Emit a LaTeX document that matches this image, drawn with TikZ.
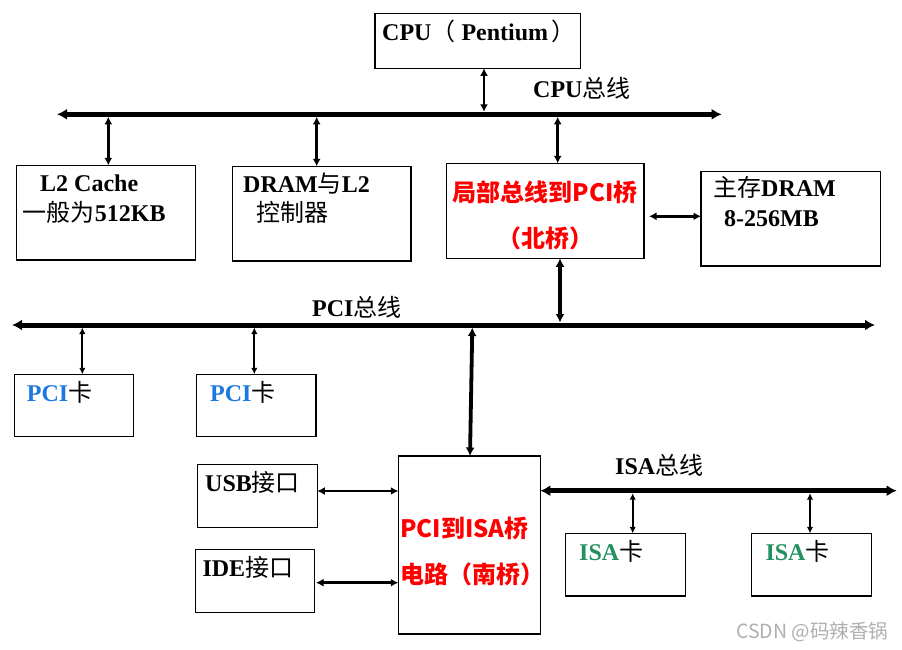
\documentclass[tikz,border=0pt]{standalone}
\usepackage{fontspec}
\usetikzlibrary{arrows.meta}
\setmainfont{Liberation Serif}
\newfontfamily\cjk{Noto Sans CJK SC}
\newcommand\zh[1]{{\cjk\mdseries #1}}
\definecolor{pciblue}{RGB}{30,120,225}
\definecolor{isagreen}{RGB}{35,145,95}
\definecolor{bridgered}{RGB}{255,0,0}
\definecolor{markgray}{RGB}{175,175,175}
\tikzset{
  box/.style={draw, line width=1.3pt, rectangle, anchor=north west, inner sep=0pt, outer sep=0pt},
  txt/.style={anchor=base west, inner sep=0pt, font=\fontsize{24}{28}\selectfont\bfseries},
  redtxt/.style={inner sep=0pt, text=bridgered, font=\fontsize{24}{28}\selectfont\cjk\bfseries},
  bus/.style={line width=5pt, {Latex[length=10pt,width=11pt]}-{Latex[length=10pt,width=11pt]}},
  link/.style={line width=2.8pt, {Latex[length=7.5pt,width=8pt]}-{Latex[length=7.5pt,width=8pt]}},
  heavy/.style={line width=3.8pt, {Latex[length=8.5pt,width=9pt]}-{Latex[length=8.5pt,width=9pt]}},
  thin/.style={line width=1.8pt, {Latex[length=6.5pt,width=6.5pt]}-{Latex[length=6.5pt,width=6.5pt]}},
}
\begin{document}
\begin{tikzpicture}[x=1pt,y=-1pt]
\useasboundingbox[fill=white] (0,0) rectangle (902,649);

% ---------- boxes ----------
\node[box, minimum width=205.7pt, minimum height=55pt]   (cpu)  at (375,13.3) {};
\node[box, minimum width=179pt,   minimum height=94.7pt] (l2)   at (16.3,165.3) {};
\node[box, minimum width=178.7pt, minimum height=94.7pt] (dctl) at (232.3,166.3) {};
\node[box, minimum width=197.3pt, minimum height=95pt]   (nb)   at (446.7,163.3) {};
\node[box, minimum width=179.7pt, minimum height=94.3pt] (mem)  at (701,171.7) {};
\node[box, minimum width=119pt,   minimum height=62.4pt] (pci1) at (14.3,374.3) {};
\node[box, minimum width=119.7pt, minimum height=62.4pt] (pci2) at (196.3,374.3) {};
\node[box, minimum width=120pt,   minimum height=63pt]   (usb)  at (197.3,464.3) {};
\node[box, minimum width=119pt,   minimum height=63pt]   (ide)  at (195.3,549.3) {};
\node[box, minimum width=142pt,   minimum height=178pt]  (sb)   at (398.3,456) {};
\node[box, minimum width=120pt,   minimum height=62.7pt] (isa1) at (565.3,533.3) {};
\node[box, minimum width=120pt,   minimum height=62.7pt] (isa2) at (751.3,533.3) {};

% ---------- texts ----------
\node[txt] (tcpu)  at (382,40)    {CPU\zh{（}\kern6pt Pentium\kern3pt\zh{）}};
\node[txt] (tcpub) at (533,97)    {CPU\zh{总线}};
\node[txt] (tl2a)  at (40,191)    {L2 Cache};
\node[txt] (tl2b)  at (22.7,221)  {\zh{一般为}512KB};
\node[txt] (tdca)  at (243,192.7) {DRAM\zh{与}L2};
\node[txt] (tdcb)  at (256.7,221) {\zh{控制器}};
\node[redtxt, anchor=base] (tnba) at (545,201) {局部总线到PCI桥};
\node[redtxt, anchor=base] (tnbb) at (545,247) {（北桥）};
\node[txt] (tmema) at (713,196.7) {\zh{主存}DRAM};
\node[txt] (tmemb) at (724,226)   {8-256MB};
\node[txt] (tpcib) at (312,316.7) {PCI\zh{总线}};
\node[txt] (tpc1)  at (26.7,401)  {\textcolor{pciblue}{PCI}\zh{卡}};
\node[txt] (tpc2)  at (210,401)   {\textcolor{pciblue}{PCI}\zh{卡}};
\node[txt] (tusb)  at (205,491.7) {USB\zh{接口}};
\node[txt] (tide)  at (202.3,576.7) {IDE\zh{接口}};
\node[redtxt, anchor=base west] (tsba) at (400,537) {PCI到ISA桥};
\node[redtxt, anchor=base west] (tsbb) at (400,583) {电路（南桥）};
\node[txt] (tisab) at (615,474.3) {ISA\zh{总线}};
\node[txt] (tis1)  at (579,560.7) {\textcolor{isagreen}{ISA}\zh{卡}};
\node[txt] (tis2)  at (765.3,560.7) {\textcolor{isagreen}{ISA}\zh{卡}};
\node[anchor=base west, inner sep=0pt, text=markgray, font=\fontsize{19.5}{23}\selectfont\cjk] (wm) at (736,638) {CSDN @码辣香锅};

% ---------- bus end points and taps ----------
\coordinate (cpubW) at (57,114.3);
\coordinate (cpubE) at (721.7,114.3);
\coordinate (pcibW) at (12,325);
\coordinate (pcibE) at (875,325);
\coordinate (isabE) at (896.7,490.7);
\coordinate (jcpu)  at (484,114.3);
\coordinate (jl2)   at (108.3,114.3);
\coordinate (jdc)   at (316.7,114.3);
\coordinate (jnb)   at (557.7,114.3);
\coordinate (jnbp)  at (560,325);
\coordinate (jp1)   at (82.3,325);
\coordinate (jp2)   at (254.3,325);
\coordinate (jsb)   at (472.3,325);
\coordinate (sbtop) at (470,456);
\coordinate (jmem)  at (649,216.3);
\coordinate (jusb)  at (317.3,491);
\coordinate (jide)  at (316,582.7);
\coordinate (ji1)   at (632.7,490.7);
\coordinate (ji2)   at (810,490.7);

% ---------- connectors ----------
\draw[link]  (cpu.south -| jcpu) -- ([yshift=2.5pt]jcpu);
\draw[link]  ([yshift=-2.5pt]jl2) -- (jl2 |- l2.north);
\draw[link]  ([yshift=-2.5pt]jdc) -- (jdc |- dctl.north);
\draw[link]  ([yshift=-2.5pt]jnb) -- (jnb |- nb.north);
\draw[link]  (jmem) -- (jmem -| mem.west);
\draw[heavy] (jnbp |- nb.south) -- ([yshift=2.5pt]jnbp);
\draw[thin]  ([yshift=-2.5pt]jp1) -- (jp1 |- pci1.north);
\draw[thin]  ([yshift=-2.5pt]jp2) -- (jp2 |- pci2.north);
\draw[heavy] ([yshift=-2.5pt]jsb) -- (sbtop);
\draw[link]  (jusb) -- (jusb -| sb.west);
\draw[link]  (jide) -- (jide -| sb.west);
\draw[thin]  ([yshift=-2.5pt]ji1) -- (ji1 |- isa1.north);
\draw[thin]  ([yshift=-2.5pt]ji2) -- (ji2 |- isa2.north);

% ---------- buses ----------
\draw[bus] (cpubW) -- (cpubE);
\draw[bus] (pcibW) -- (pcibE);
\draw[bus] (isabE -| sb.east) -- (isabE);
\end{tikzpicture}
\end{document}
